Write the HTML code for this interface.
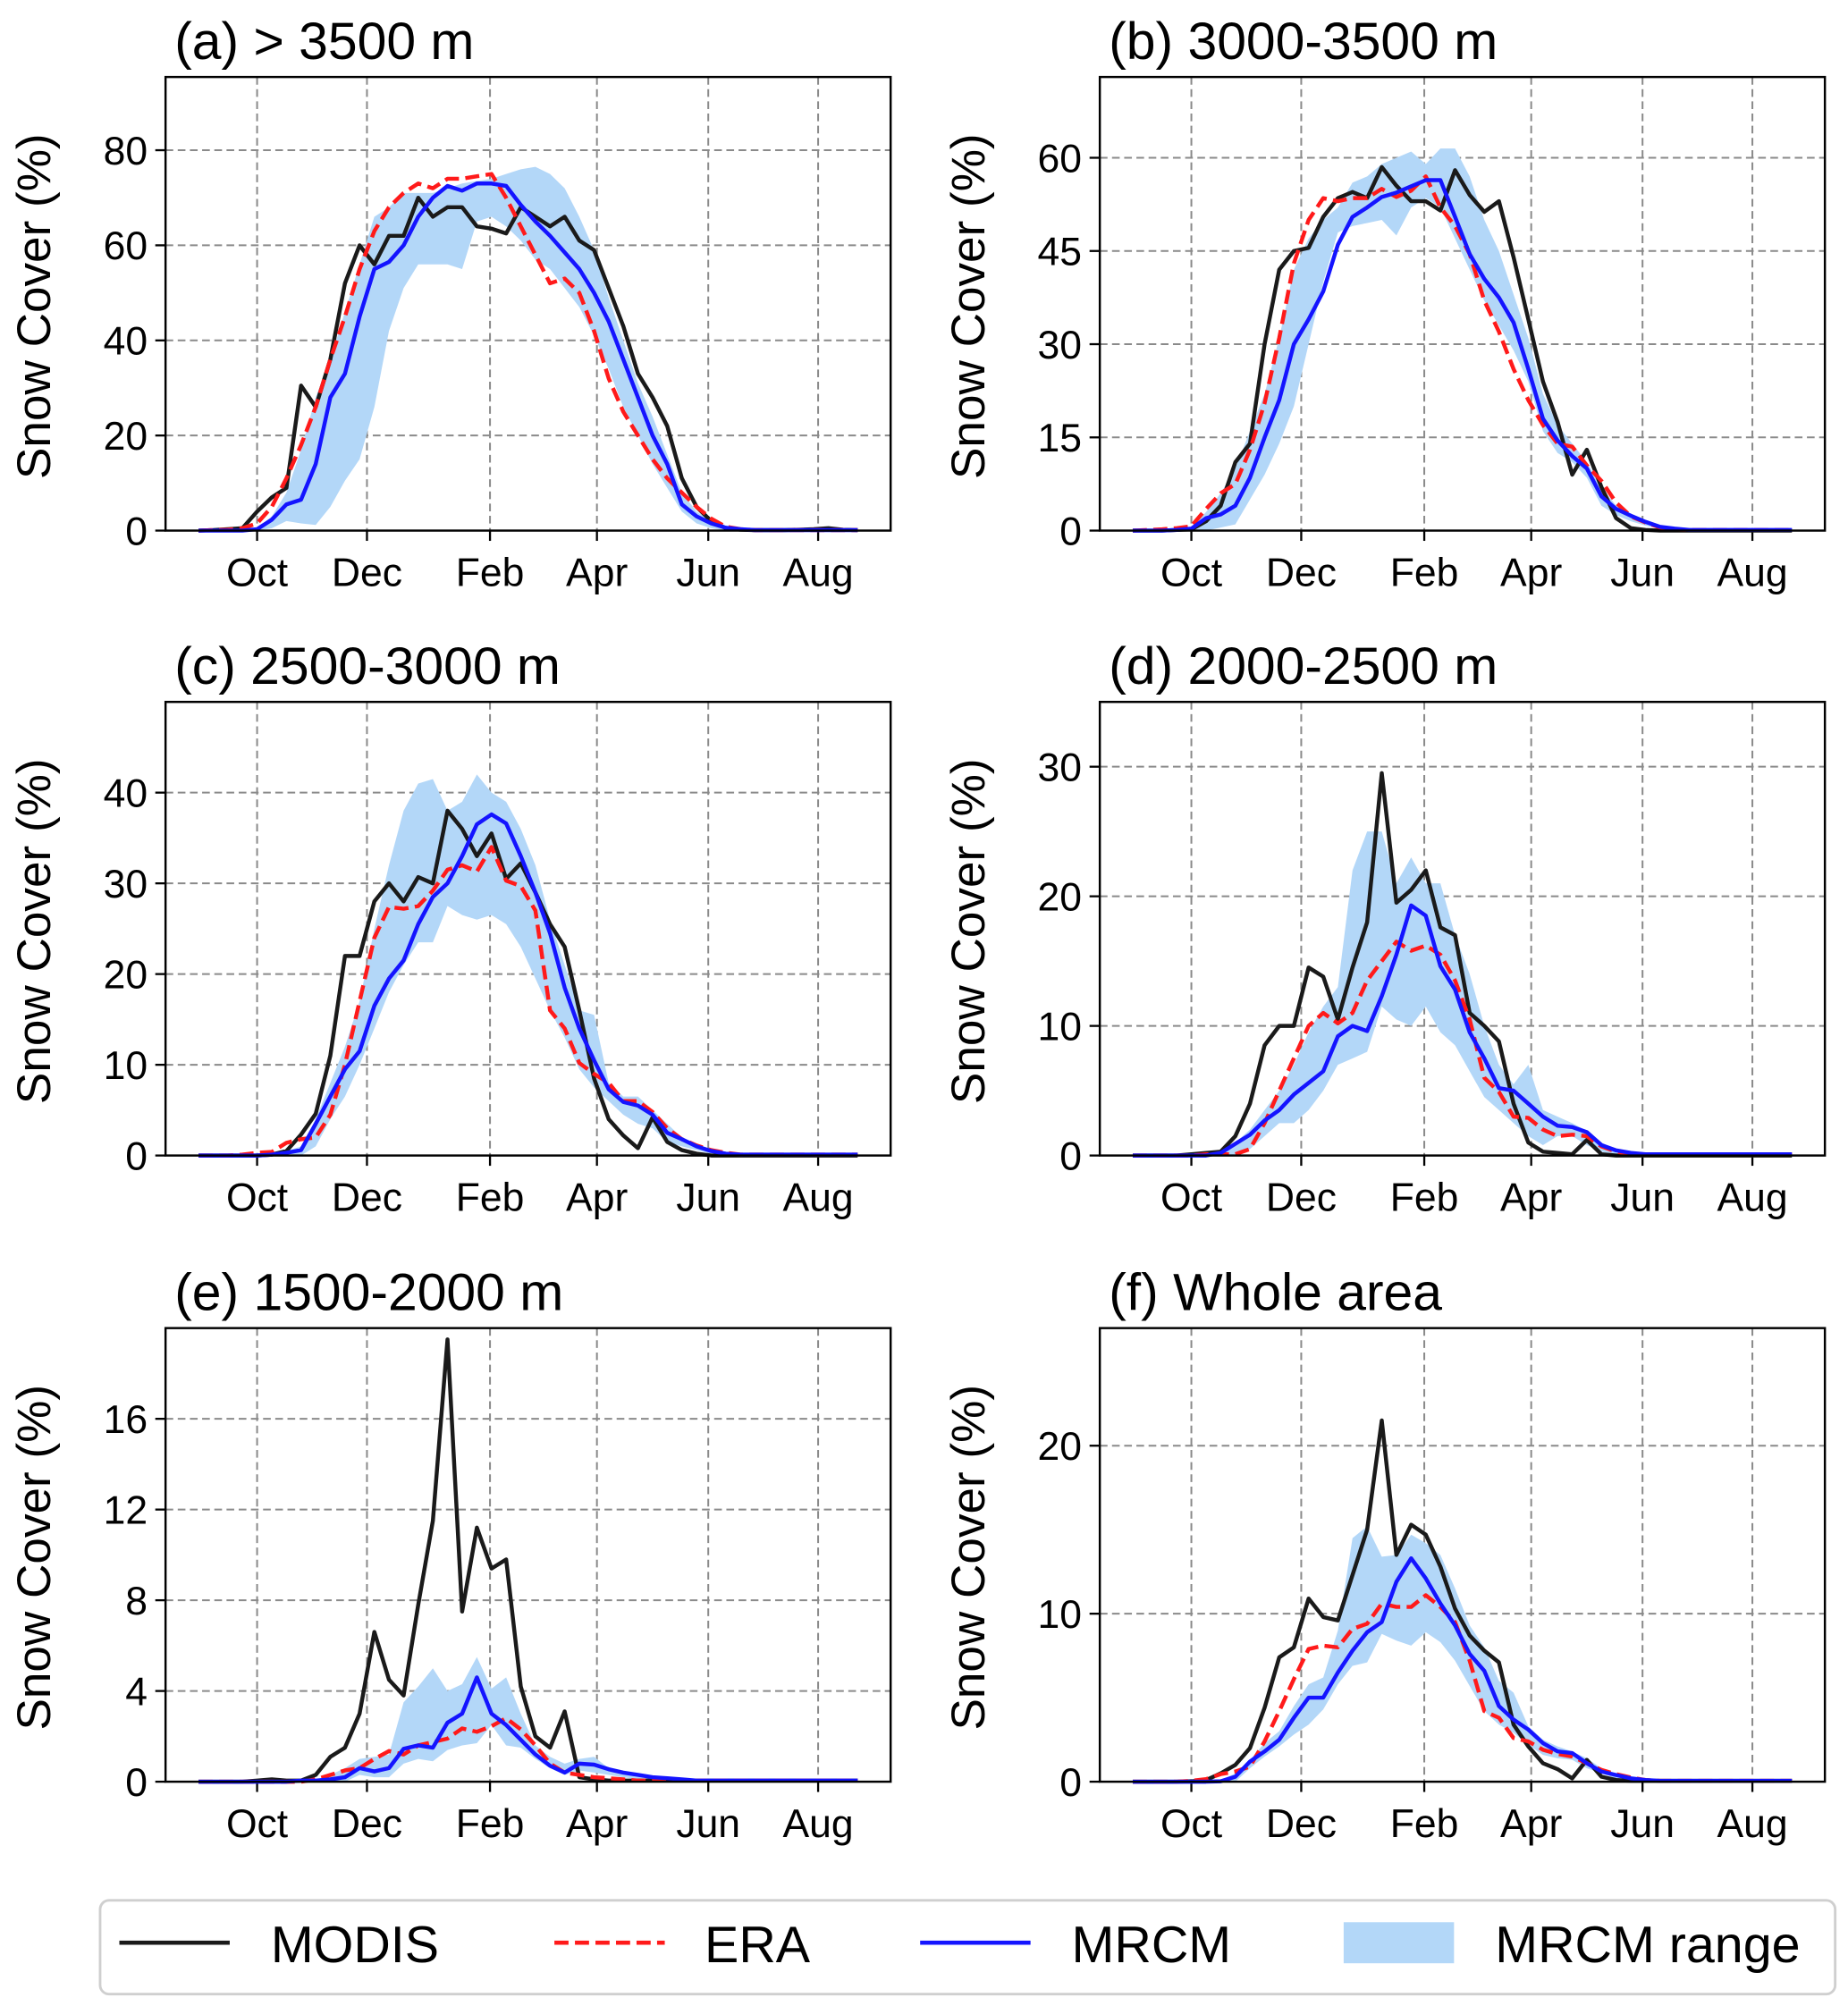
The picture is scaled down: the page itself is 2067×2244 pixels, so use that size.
<!DOCTYPE html>
<html><head><meta charset="utf-8">
<style>
html,body{margin:0;padding:0;background:#fff;}
svg{display:block;}
text{font-family:"Liberation Sans","DejaVu Sans",sans-serif;fill:#000;}
</style></head>
<body>
<svg id="fig" width="2067" height="2244" viewBox="0 0 1440 1563.3" preserveAspectRatio="none" xmlns="http://www.w3.org/2000/svg"></svg>
<script>
// shared categories: 8-day period index (46 periods)
const periods = Array.from({length:46},(_,i)=>i);
const monthLabels = ["Oct","Dec","Feb","Apr","Jun","Aug"];
const monthTickIdx = [4,11.5,19.9,27.2,34.8,42.3];

// (a) > 3500 m
const aTicks = [0,20,40,60,80];
const aModis = [0,0.1,0.3,0.5,4,7,9,30.5,26,36,52,60,56,62,62,70,66,68,68,64,63.5,62.5,68,66,64,66,61,59,51,43,33,28,22,11,5,2,0.5,0.2,0.1,0.1,0.1,0.2,0.3,0.5,0.2,0.1];
const aEra = [0,0.1,0.2,0.5,1.5,5,11,18,26,36,45,55,63,68,71,73,72,74,74,74.5,75,70,64,58,52,53,50,42,32,25,20,15,11,8,5,2.5,0.8,0.3,0.1,0.1,0.1,0.1,0.1,0.1,0.1,0.1];
const aMrcm = [0,0,0,0,0.3,2.3,5.5,6.5,14,28,33,45,55,56.5,60,66,70,72.5,71.5,73,73,72.5,68.5,65,62,58.5,55,50,44,36,28,20,14,5.5,3,1.5,0.6,0.3,0.1,0.1,0.1,0.1,0.1,0.1,0.1,0.1];
const aLow = [0,0,0,0,0,0.5,2,1.5,1.2,5,10.5,15,26,42,51,56,56,56,55,65,66,64,61,57,55,51,47,41,34,26,20,14,9,4,1.5,0.5,0,0,0,0,0,0,0,0,0,0];
const aHigh = [0,0,0,0,0.5,3,8,17,28,36,46,56,66,68,71,71,71,72,73,73.5,74,75,76,76.5,75,72,66,59,49,40,31,24,16,8,4,2,0.8,0.3,0,0,0,0,0,0,0,0];

// (b) 3000-3500 m
const bTicks = [0,15,30,45,60];
const bModis = [0,0,0,0.1,0.2,1.5,4,11,14,30,42,45,45.5,50.5,53.5,54.5,53.5,58.5,55.5,53,53,51.5,58,54,51.3,53,44,34,24,17.5,9,13,7,2,0.4,0.1,0,0,0,0,0,0,0,0,0,0];
const bEra = [0,0.1,0.2,0.4,0.7,3.5,6,7.5,13,20.5,31,43,50,53.5,53,53.5,53.5,55,53.7,54.7,57,52,49,44.5,37,32,26,21,17,14,13.5,10.5,8,4.5,2.3,1.3,0.5,0.2,0.1,0.1,0.1,0.1,0.1,0.1,0.1,0.1];
const bMrcm = [0,0,0,0.1,0.3,2,2.6,4,8.5,15,21,30,34,38.5,46,50.5,52,53.7,54.4,55.4,56.4,56.4,50.5,44.5,40.5,37.5,33.5,26,18,14.5,12,10,5.5,3.5,2.4,1.4,0.6,0.3,0.1,0.1,0.1,0.1,0.1,0.1,0.1,0.1];
const bLow = [0,0,0,0,0,0,0.5,1,5,9,14,20,30,40,48,49,49.5,50,47.5,52,53.5,52,47,42,37,33,29,24,16,12.5,11,8.5,4,2.5,1.5,0.8,0.3,0,0,0,0,0,0,0,0,0];
const bHigh = [0,0,0,0,0.3,3,6,10,16,22,31,42,47,50,52,56,57,59,60,61,59,61.5,61.5,57,50,45,38,31,22,17,14,11,7,4,2.5,1.5,0.5,0,0,0,0,0,0,0,0,0];

// (c) 2500-3000 m
const cTicks = [0,10,20,30,40];
const cModis = [0,0,0,0,0,0.1,0.5,2.3,4.6,11,22,22,28,30,28,30.7,30,38,36,33,35.5,30.5,32.2,29,25.5,23,16,8.5,4,2.2,0.8,4.2,1.5,0.6,0.2,0,0,0,0,0,0,0,0,0,0,0];
const cEra = [0,0,0,0.1,0.3,0.4,1.4,1.8,2,4.5,10,17,24,27.4,27.2,27.5,29.2,31.5,32,31.3,34,30.3,29.7,27,16,14,10.2,9,8,6,6,4.8,3,1.8,1.1,0.6,0.3,0.1,0.1,0.1,0.1,0.1,0.1,0.1,0.1,0.1];
const cMrcm = [0,0,0,0,0,0.1,0.3,0.6,3.5,6.5,9.5,11.5,16.5,19.5,21.5,25.5,28.5,30,33,36.5,37.6,36.6,33,29,24.5,18.5,14,10.5,7.3,5.9,5.5,4.5,2.5,1.8,1,0.5,0.2,0.1,0.1,0.1,0.1,0.1,0.1,0.1,0.1,0.1];
const cLow = [0,0,0,0,0,0,0,0,1,4,6.5,10,14,18,21,23.5,23.5,27.5,26.5,26,26.5,25.5,23,19.5,16,13,9.5,7.5,6,4.5,3.5,3,1.5,1,0.6,0.2,0,0,0,0,0,0,0,0,0,0];
const cHigh = [0,0,0,0,0,0.2,0.5,1,4,8,12,17,25,32,38,41,41.5,38,39,42,40,39,36,32,26,21,16,15.5,8,6.5,6.5,5,3.5,2,1.2,0.5,0,0,0,0,0,0,0,0,0,0];

// (d) 2000-2500 m
const dTicks = [0,10,20,30];
const dModis = [0,0,0,0,0.1,0.2,0.3,1.5,4,8.5,10,10,14.5,13.8,10.5,14.5,18,29.5,19.5,20.5,22,17.6,17,11,10,8.8,4,1,0.3,0.2,0.1,1.2,0.1,0,0,0,0,0,0,0,0,0,0,0,0,0];
const dEra = [0,0,0,0,0,0.1,0.1,0.1,0.5,2.5,5,7.5,10,11,10.2,11,13.5,15,16.5,15.8,16.2,15.5,13.5,10.5,6,4.9,3,2.9,2,1.5,1.6,1.5,0.7,0.3,0.1,0.1,0.1,0.1,0.1,0.1,0.1,0.1,0.1,0.1,0.1,0.1];
const dMrcm = [0,0,0,0,0,0,0.2,0.9,1.6,2.7,3.5,4.7,5.6,6.5,9.2,10,9.6,12.3,15.5,19.3,18.5,14.6,12.8,9.5,7.5,5.2,5,4,3,2.3,2.2,1.8,0.8,0.4,0.2,0.1,0.1,0.1,0.1,0.1,0.1,0.1,0.1,0.1,0.1,0.1];
const dLow = [0,0,0,0,0,0,0,0,0.5,1.5,2.5,2.5,3.5,5,7,7.5,8,11.5,10.5,10,11.5,9.5,8.5,6.5,4.5,3.5,2.5,1.5,0.8,1.5,1.5,0.8,0.3,0,0,0,0,0,0,0,0,0,0,0,0,0];
const dHigh = [0,0,0,0,0,0,0.3,1,2,3.5,5,7,9.5,11.5,13,22,25,25,21,23,21,21,17,14,10,7,5.5,7,3.5,3,2.5,1.9,1,0.4,0,0,0,0,0,0,0,0,0,0,0,0];

// (e) 1500-2000 m
const eTicks = [0,4,8,12,16];
const eModis = [0,0,0,0,0.05,0.1,0.05,0.05,0.3,1.1,1.5,3,6.6,4.5,3.8,7.8,11.5,19.5,7.5,11.2,9.4,9.8,4.2,2,1.5,3.1,0.2,0.1,0.05,0.05,0.05,0.05,0.05,0.05,0.05,0.05,0.05,0.05,0.05,0.05,0.05,0.05,0.05,0.05,0.05,0.05];
const eEra = [0,0,0,0,0,0,0,0,0.1,0.3,0.5,0.6,1.0,1.35,1.2,1.6,1.75,1.9,2.35,2.2,2.45,2.8,2.3,1.6,0.8,0.4,0.3,0.2,0.15,0.1,0.05,0.05,0.05,0.05,0.05,0.05,0.05,0.05,0.05,0.05,0.05,0.05,0.05,0.05,0.05,0.05];
const eMrcm = [0,0,0,0,0,0,0,0.05,0.05,0.1,0.2,0.6,0.45,0.6,1.45,1.6,1.5,2.6,3,4.6,3,2.5,1.85,1.2,0.7,0.4,0.8,0.75,0.55,0.4,0.3,0.2,0.15,0.1,0.05,0.05,0.05,0.05,0.05,0.05,0.05,0.05,0.05,0.05,0.05,0.05];
const eLow = [0,0,0,0,0,0,0,0,0,0,0,0.3,0.2,0.2,0.8,1.0,0.9,1.4,1.6,1.7,2.5,1.6,1.5,1.0,0.6,0.3,0.5,0.4,0.3,0.2,0.1,0,0,0,0,0,0,0,0,0,0,0,0,0,0,0];
const eHigh = [0,0,0,0,0,0,0,0,0,0.3,0.6,1.0,1.1,1.2,3.5,4.2,5,4,4.3,5.5,4.1,4.6,3,1.6,1.1,0.8,1.0,1.1,0.6,0.4,0.3,0.2,0.1,0,0,0,0,0,0,0,0,0,0,0,0,0];

// (f) Whole area
const fTicks = [0,10,20];
const fModis = [0,0,0,0,0.02,0.1,0.5,1.0,2,4.4,7.4,8,10.9,9.8,9.6,12.3,15,21.5,13.5,15.3,14.7,12.8,10.3,8.7,7.8,7.1,3.4,2.1,1.1,0.75,0.2,1.3,0.3,0.1,0.05,0.05,0.05,0.05,0.05,0.05,0.05,0.05,0.05,0.05,0.05,0.05];
const fEra = [0,0,0,0,0.05,0.15,0.45,0.6,0.9,2.4,4.2,6.1,7.9,8.1,8,9.1,9.4,10.6,10.4,10.4,11.1,10.4,9.5,7.2,4.2,3.8,2.6,2.4,1.9,1.65,1.5,1.1,0.7,0.45,0.25,0.1,0.05,0.05,0.05,0.05,0.05,0.05,0.05,0.05,0.05,0.05];
const fMrcm = [0,0,0,0,0,0,0.02,0.3,1.2,1.8,2.5,3.8,5,5,6.5,7.8,8.9,9.5,11.9,13.3,12.1,10.6,9.3,7.6,6.6,4.5,3.7,3.1,2.3,1.8,1.7,1.1,0.6,0.4,0.2,0.1,0.05,0.05,0.05,0.05,0.05,0.05,0.05,0.05,0.05,0.05];
const fLow = [0,0,0,0,0,0,0,0,0.8,1.5,2.1,2.8,3.4,4.3,5.8,6.9,7.1,8.8,8.4,8.1,8.9,8.3,7.2,5.7,4.2,3.4,2.9,2.2,1.6,1.4,1.3,0.8,0.5,0.2,0,0,0,0,0,0,0,0,0,0,0,0];
const fHigh = [0,0,0,0,0,0,0.1,0.5,1.3,2.3,3,4.5,5.8,6.2,9,14.5,15.2,13.4,13.5,14.7,14.2,13.5,11.5,9.3,8,6,5.3,3.3,2.5,2.1,1.8,1.4,0.8,0.5,0.3,0.1,0,0,0,0,0,0,0,0,0,0];

const NS = "http://www.w3.org/2000/svg";
const svg = document.getElementById("fig");
function mk(tag, attrs, parent){
  const e = document.createElementNS(NS, tag);
  for (const k in attrs) e.setAttribute(k, attrs[k]);
  (parent||svg).appendChild(e);
  return e;
}

const panels = [
  {id:"a", title:"(a) > 3500 m", col:0, row:0, ymax:95.4, ticks:aTicks, modis:aModis, era:aEra, mrcm:aMrcm, low:aLow, high:aHigh},
  {id:"b", title:"(b) 3000-3500 m", col:1, row:0, ymax:73, ticks:bTicks, modis:bModis, era:bEra, mrcm:bMrcm, low:bLow, high:bHigh},
  {id:"c", title:"(c) 2500-3000 m", col:0, row:1, ymax:50, ticks:cTicks, modis:cModis, era:cEra, mrcm:cMrcm, low:cLow, high:cHigh},
  {id:"d", title:"(d) 2000-2500 m", col:1, row:1, ymax:35, ticks:dTicks, modis:dModis, era:dEra, mrcm:dMrcm, low:dLow, high:dHigh},
  {id:"e", title:"(e) 1500-2000 m", col:0, row:2, ymax:20, ticks:eTicks, modis:eModis, era:eEra, mrcm:eMrcm, low:eLow, high:eHigh},
  {id:"f", title:"(f) Whole area", col:1, row:2, ymax:27, ticks:fTicks, modis:fModis, era:fEra, mrcm:fMrcm, low:fLow, high:fHigh}
];

const colX = [129, 857], W = 565;
const rowTop = [60, 547, 1035], H = 353.5;
const XMIN = -2.25, XMAX = 47.25;

panels.forEach(p => {
  const L = colX[p.col], T = rowTop[p.row], B = T + H, R = L + W;
  const xs = v => L + (v - XMIN) / (XMAX - XMIN) * W;
  const ys = v => B - v / p.ymax * H;
  const g = mk("g", {});
  
  

  const title = mk("text", {x: L + 7, y: T - 14, "font-size": 41}, g);
  title.textContent = p.title;
  
  

  const yl = mk("text", {x: 0, y: 0, "font-size": 37, "text-anchor": "middle", transform: `translate(${L - 90},${(T + B) / 2 + 2}) rotate(-90)`}, g);
  yl.textContent = "Snow Cover (%)";
  
  

  // grid
  monthTickIdx.forEach((m, k) => {
    const x = xs(m);
    const gl = mk("line", {x1: x, x2: x, y1: T, y2: B, stroke: "#8a8a8a", "stroke-width": 1.4, "stroke-dasharray": "6,3.5"}, g);
    
    
    const tk = mk("line", {x1: x, x2: x, y1: B, y2: B + 8, stroke: "#000", "stroke-width": 1.6}, g);
    
    
    const tl = mk("text", {x: x, y: B + 43, "font-size": 31, "text-anchor": "middle"}, g);
    tl.textContent = monthLabels[k];
    
    
  });
  p.ticks.forEach(t => {
    const y = ys(t);
    if (t > 0) {
      const gl = mk("line", {x1: L, x2: R, y1: y, y2: y, stroke: "#8a8a8a", "stroke-width": 1.4, "stroke-dasharray": "6,3.5"}, g);
      
      
    }
    const tk = mk("line", {x1: L - 8, x2: L, y1: y, y2: y, stroke: "#000", "stroke-width": 1.6}, g);
    
    
    const tl = mk("text", {x: L - 14, y: y + 11, "font-size": 31, "text-anchor": "end"}, g);
    tl.textContent = String(t);
    
    
  });

  // range band
  let pts = periods.map(i => xs(i).toFixed(1) + "," + ys(p.high[i]).toFixed(1));
  for (let i = periods.length - 1; i >= 0; i--) pts.push(xs(i).toFixed(1) + "," + ys(p.low[i]).toFixed(1));
  const band = mk("polygon", {points: pts.join(" "), fill: "#b3d7f8", stroke: "none"}, g);
  
  

  const line = (arr, color, dash, name) => {
    const d = periods.map(i => xs(i).toFixed(1) + "," + ys(arr[i]).toFixed(1)).join(" ");
    const pl = mk("polyline", {points: d, fill: "none", stroke: color, "stroke-width": 3.1, "stroke-linejoin": "round"}, g);
    if (dash) pl.setAttribute("stroke-dasharray", dash);
    
    
  };
  line(p.modis, "#1a1a1a", null, "modis-line");
  line(p.era, "#ff1a1a", "11,5", "era-line");
  line(p.mrcm, "#1414ff", null, "mrcm-line");

  const fr = mk("rect", {x: L, y: T, width: W, height: H, fill: "none", stroke: "#000", "stroke-width": 1.7}, g);
  
  
});

// legend
const lg = mk("g", {});


const lbox = mk("rect", {x: 78, y: 1481, width: 1352, height: 73, rx: 7, fill: "#fff", stroke: "#cfcfcf", "stroke-width": 2}, lg);


const legendItems = [
  {label: "MODIS", x: 93, tx: 211, color: "#1a1a1a", dash: null, name: "legend-entry-modis"},
  {label: "ERA", x: 432, tx: 549, color: "#ff1a1a", dash: "11,5", name: "legend-entry-era"},
  {label: "MRCM", x: 717, tx: 835, color: "#1414ff", dash: null, name: "legend-entry-mrcm"}
];
legendItems.forEach(it => {
  const ln = mk("line", {x1: it.x, x2: it.x + 86, y1: 1514, y2: 1514, stroke: it.color, "stroke-width": 3.2}, lg);
  if (it.dash) ln.setAttribute("stroke-dasharray", it.dash);
  
  
  const t = mk("text", {x: it.tx, y: 1529, "font-size": 40}, lg);
  t.textContent = it.label;
  
  
});
const sw = mk("rect", {x: 1047, y: 1498, width: 86, height: 32, fill: "#b3d7f8"}, lg);


const rt = mk("text", {x: 1165, y: 1529, "font-size": 40}, lg);
rt.textContent = "MRCM range";


</script>
</body></html>
